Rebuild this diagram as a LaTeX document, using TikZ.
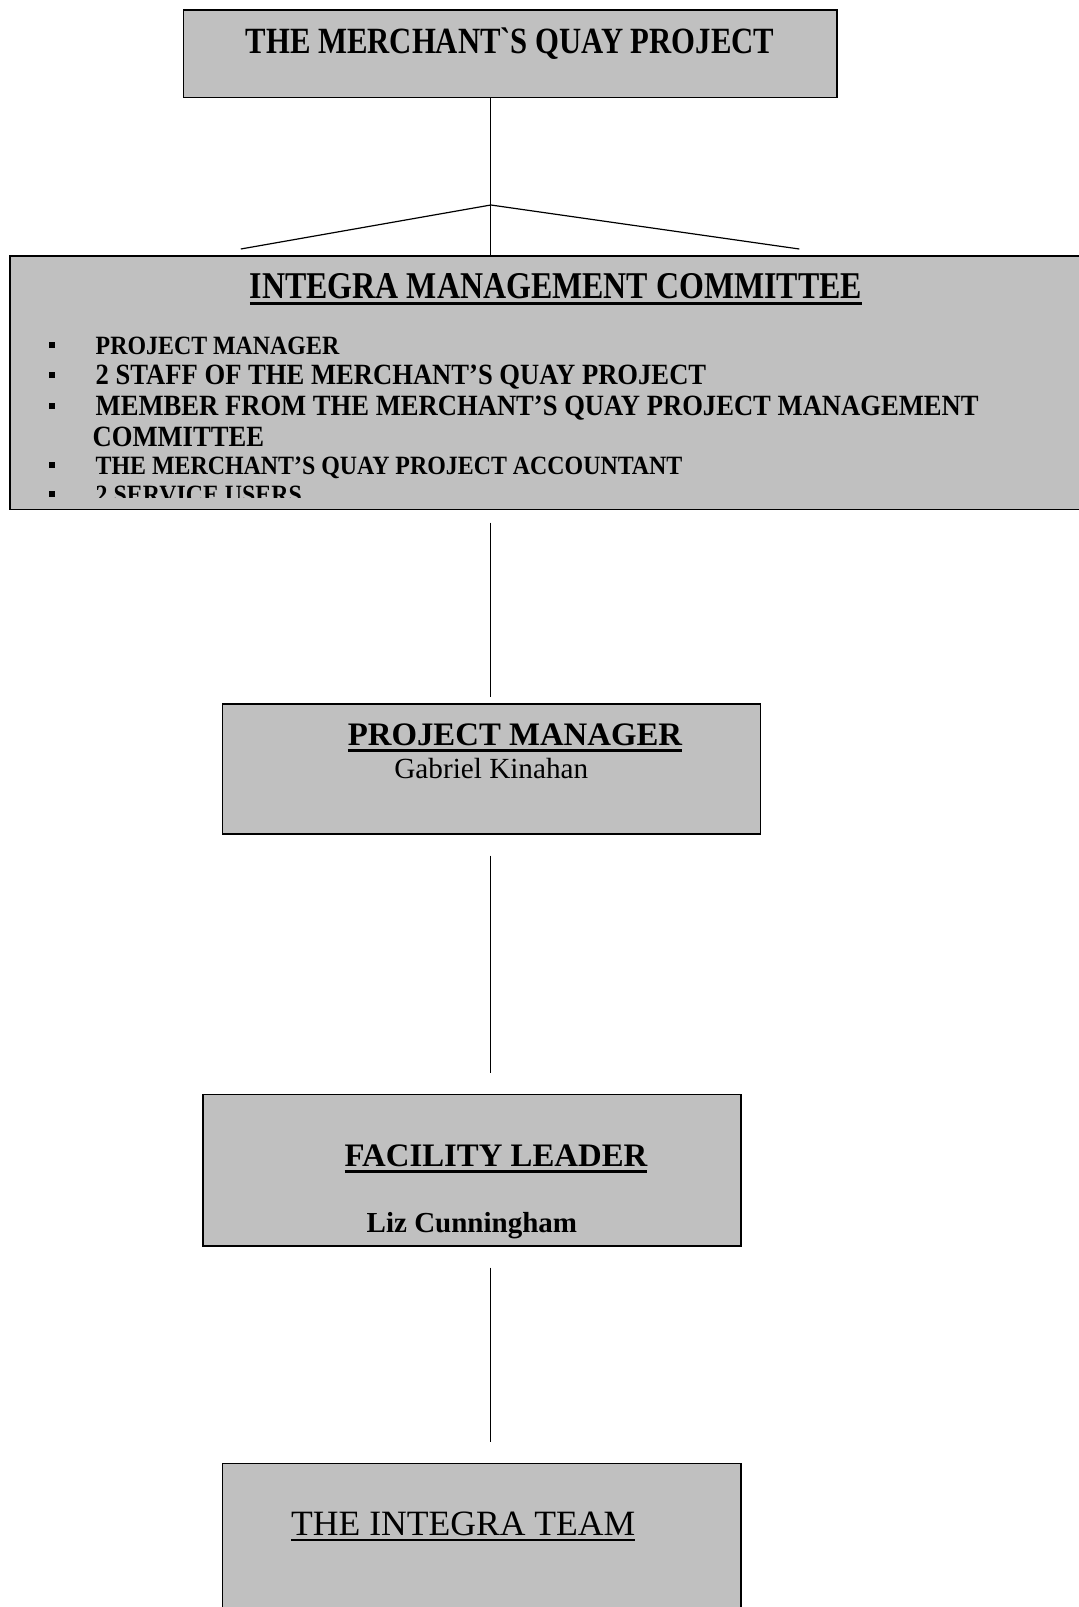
\documentclass[tikz,border=0pt]{standalone}
\usepackage{fontspec}
\setmainfont{Liberation Serif}
\usepackage{graphicx}
\definecolor{boxgray}{HTML}{C0C0C0}
\newcommand\thul[2]{\leavevmode\vtop{\hbox{#2}\kern1.6pt\hrule height #1}}
\newcommand\cond[2]{\scalebox{#1}[1]{#2}}
\newcommand\gravechar{\XeTeXglyph\XeTeXcharglyph"0060\relax}
\tikzset{
  box/.style={draw=black,line width=0.8pt,fill=boxgray,inner sep=0pt},
  conn/.style={line width=0.6pt},
  txt/.style={inner sep=0pt,anchor=base},
  item/.style={inner sep=0pt,anchor=base west},
  bul/.style={fill=black,inner sep=0pt,minimum size=3pt}
}
\begin{document}
\begin{tikzpicture}[x=0.5pt,y=-0.5pt]
\useasboundingbox (0,0) rectangle (1078,1607);

% boxes
\node[box,minimum width=326.9pt,minimum height=43.55pt] (top) at (510.3,53.75) {};
\node[box,minimum width=539.9pt,minimum height=126.55pt] (mc) at (550.1,382.75) {};
\node[box,minimum width=268.95pt,minimum height=65.05pt] (pm) at (491.35,769.05) {};
\node[box,minimum width=269pt,minimum height=75.8pt] (fl) at (471.9,1170.2) {};
\node[box,minimum width=259.25pt,minimum height=78.35pt] (team) at (481.65,1541.65) {};

% texts
\node[txt,font=\fontsize{18.5pt}{20pt}\selectfont\bfseries] (toptxt) at (510,53.3)
  {\cond{0.83}{THE MERCHANT\gravechar S QUAY PROJECT}};
\node[txt,font=\fontsize{18.9pt}{20pt}\selectfont\bfseries] (mctxt) at (556,298)
  {\cond{0.845}{\thul{1.5pt}{INTEGRA MANAGEMENT COMMITTEE}}};

\begin{scope}
\clip (10,256) rectangle (1078,497.5);
\node[item,font=\fontsize{13.2pt}{14pt}\selectfont\bfseries] (i1) at (95.3,354) {\cond{0.905}{PROJECT MANAGER}};
\node[item,font=\fontsize{14.7pt}{16pt}\selectfont\bfseries] (i2) at (95.3,384.7) {\cond{0.905}{2 STAFF OF THE MERCHANT’S QUAY PROJECT}};
\node[item,font=\fontsize{14.7pt}{16pt}\selectfont\bfseries] (i3) at (95.3,415.5) {\cond{0.905}{MEMBER FROM THE MERCHANT’S QUAY PROJECT MANAGEMENT}};
\node[item,font=\fontsize{14.7pt}{16pt}\selectfont\bfseries] (i3b) at (92.2,446.2) {\cond{0.905}{COMMITTEE}};
\node[item,font=\fontsize{13.2pt}{14pt}\selectfont\bfseries] (i4) at (95.3,474) {\cond{0.905}{THE MERCHANT’S QUAY PROJECT ACCOUNTANT}};
\node[item,font=\fontsize{13.2pt}{14pt}\selectfont\bfseries] (i5) at (95.3,503.6) {\cond{0.905}{2 SERVICE USERS}};
\foreach \yy/\nm in {345.3/b1,375/b2,405.8/b3,465.2/b4,493.5/b5}
  \node[bul] (\nm) at (51.5,\yy) {};
\end{scope}

\node[txt,font=\fontsize{16.4pt}{18pt}\selectfont\bfseries] (pmtxt) at (515,745.6)
  {\thul{1.5pt}{PROJECT MANAGER}};
\node[txt,font=\fontsize{14.6pt}{16pt}\selectfont] (pmname) at (491.3,778.2) {Gabriel Kinahan};

\node[txt,font=\fontsize{16.4pt}{18pt}\selectfont\bfseries] (fltxt) at (496,1166.8)
  {\thul{1.5pt}{FACILITY LEADER}};
\node[txt,font=\fontsize{14.5pt}{16pt}\selectfont\bfseries] (flname) at (471.9,1232) {Liz Cunningham};

\node[txt,font=\fontsize{17.8pt}{19pt}\selectfont] (teamtxt) at (463.2,1535.5)
  {\thul{0.75pt}{THE INTEGRA TEAM}};

% connectors
\coordinate (j) at (490.8,205);
\coordinate (bl) at (240.8,249);
\coordinate (br) at (799.3,249);
\draw[conn] (top.south -| j) -- (mc.north -| j);
\draw[conn] (bl) -- (j) -- (br);
\coordinate (a1) at (490.8,522.6);
\coordinate (a2) at (490.8,696.8);
\draw[conn] (a1) -- (a2);
\coordinate (b1c) at (490.8,855.6);
\coordinate (b2c) at (490.8,1072.9);
\draw[conn] (b1c) -- (b2c);
\coordinate (c1) at (490.8,1267.6);
\coordinate (c2) at (490.8,1441.8);
\draw[conn] (c1) -- (c2);
\end{tikzpicture}
\end{document}
